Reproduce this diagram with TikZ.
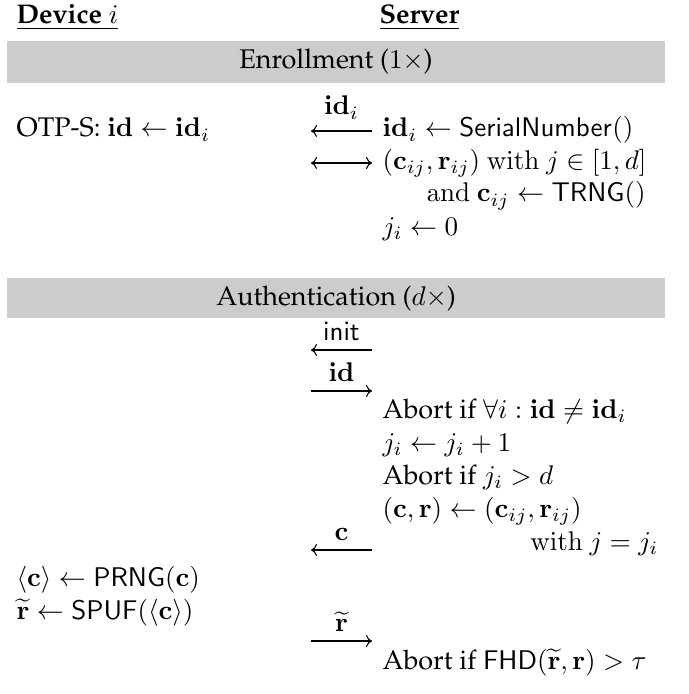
\documentclass[tikz,border=0pt]{standalone}
\usepackage[T1]{fontenc}
\renewcommand{\rmdefault}{ppl}
\usepackage{amsmath}
\usetikzlibrary{arrows.meta}

\definecolor{phasegray}{RGB}{204,204,204}

\tikzset{
  txt/.style={anchor=base west, inner sep=0pt},
  txtr/.style={anchor=base east, inner sep=0pt},
  mid/.style={anchor=base, inner sep=0pt},
  phasebar/.style={fill=phasegray},
  msg/.style={line width=0.4pt, -{To[length=2.2pt,width=4.4pt]}},
  msgboth/.style={line width=0.4pt, {To[length=2.2pt,width=4.4pt]}-{To[length=2.2pt,width=4.4pt]}},
}

\begin{document}
\begin{tikzpicture}[x=0.3704pt, y=-0.3704pt]
  \useasboundingbox (0,0) rectangle (688,694);

  % column headers
  \node[txt] (dev) at (16,24) {\underline{\textbf{Device} $i$}};
  \node[txt] (srv) at (379,24) {\underline{\textbf{Server}}};

  % ---------------- enrollment phase ----------------
  \fill[phasebar] (7,41) rectangle (665,83);
  \node[mid] (enr) at (336,68.5) {Enrollment ($1\times$)};

  \node[txt] (otp) at (16,137) {OTP-S: $\mathbf{id}\leftarrow\mathbf{id}_i$};
  \node[txt] (s1) at (382,137) {$\mathbf{id}_i\leftarrow\mathsf{SerialNumber}()$};
  \node[txt] (s2) at (382,169.5) {$(\mathbf{c}_{ij},\mathbf{r}_{ij})\ \mathrm{with}\ j\in[1,d]$};
  \node[txt] (s3) at (426,202) {$\mathrm{and}\ \mathbf{c}_{ij}\leftarrow\mathsf{TRNG}()$};
  \node[txt] (s4) at (382,235) {$j_i\leftarrow 0$};

  \coordinate (e1l) at (311,131);
  \coordinate (e1r) at (372,131);
  \draw[msg] (e1r) -- (e1l);
  \node[mid] (e1lab) at (341.5,115) {$\mathbf{id}_i$};

  \coordinate (e2l) at (311,163);
  \coordinate (e2r) at (372,163);
  \draw[msgboth] (e2l) -- (e2r);

  % ---------------- authentication phase ----------------
  \fill[phasebar] (7,278) rectangle (665,318);
  \node[mid] (auth) at (336,305) {Authentication ($d\times$)};

  \coordinate (m1l) at (311,350);
  \coordinate (m1r) at (372,350);
  \draw[msg] (m1r) -- (m1l);
  \node[mid] (m1lab) at (341.5,340.5) {$\mathsf{init}$};

  \coordinate (m2l) at (311,391);
  \coordinate (m2r) at (372,391);
  \draw[msg] (m2l) -- (m2r);
  \node[mid] (m2lab) at (341.5,381.5) {$\mathbf{id}$};

  \node[txt] (a1) at (382,418) {Abort if $\forall i:\mathbf{id}\neq\mathbf{id}_i$};
  \node[txt] (a2) at (382,451) {$j_i\leftarrow j_i+1$};
  \node[txt] (a3) at (382,484) {Abort if $j_i>d$};
  \node[txt] (a4) at (382,517) {$(\mathbf{c},\mathbf{r})\leftarrow(\mathbf{c}_{ij},\mathbf{r}_{ij})$};
  \node[txtr] (a5) at (659,550) {$\mathrm{with}\ j=j_i$};

  \coordinate (m3l) at (311,550);
  \coordinate (m3r) at (372,550);
  \draw[msg] (m3r) -- (m3l);
  \node[mid] (m3lab) at (341.5,540.5) {$\mathbf{c}$};

  \node[txt] (d1) at (16,586) {$\langle\mathbf{c}\rangle\leftarrow\mathsf{PRNG}(\mathbf{c})$};
  \node[txt] (d2) at (16,619) {$\widetilde{\mathbf{r}}\leftarrow\mathsf{SPUF}(\langle\mathbf{c}\rangle)$};

  \coordinate (m4l) at (311,641);
  \coordinate (m4r) at (372,641);
  \draw[msg] (m4l) -- (m4r);
  \node[mid] (m4lab) at (341.5,631.5) {$\widetilde{\mathbf{r}}$};

  \node[txt] (a6) at (382,669) {Abort if $\mathsf{FHD}(\widetilde{\mathbf{r}},\mathbf{r})>\tau$};
\end{tikzpicture}
\end{document}
